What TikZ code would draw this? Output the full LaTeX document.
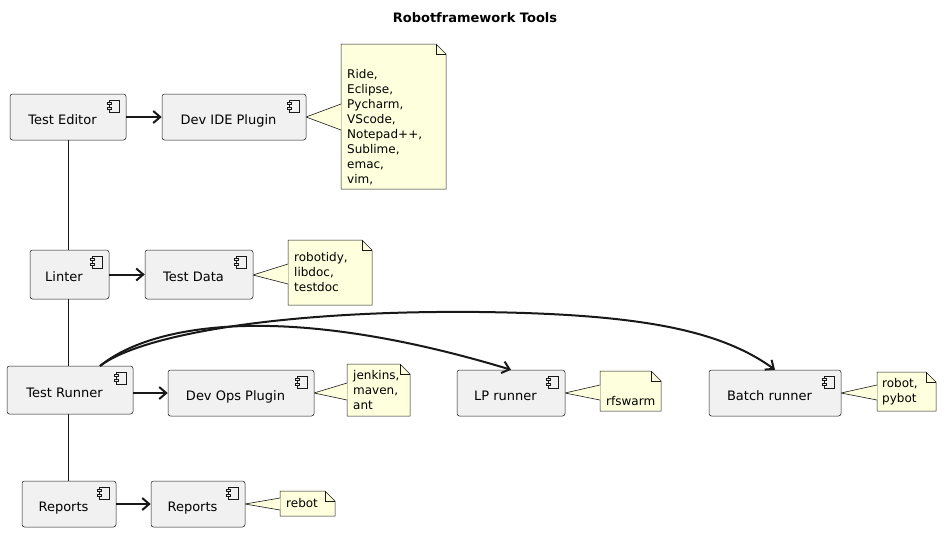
\documentclass[tikz,border=0pt]{standalone}
\usepackage{fontspec}
\setmainfont{DejaVu Sans}
\usetikzlibrary{backgrounds,arrows.meta}
\definecolor{cf}{HTML}{F1F1F1}
\definecolor{nf}{HTML}{FEFFDD}
\definecolor{ln}{HTML}{181818}
\newcommand\ct[1]{\raisebox{-7pt}[0pt][0pt]{#1}\hspace*{11pt}}
\tikzset{
 x=1pt,y=-1pt,
 comp/.style={draw=ln,fill=cf,rounded corners=2.5pt,line width=0.5pt,font=\fontsize{13}{15}\selectfont,
  path picture={\draw[ln,line width=0.5pt,sharp corners] ([xshift=-17pt,yshift=-6pt]path picture bounding box.north east) rectangle ([xshift=-7pt,yshift=-18pt]path picture bounding box.north east);
   \draw[ln,fill=cf,line width=0.5pt,sharp corners] ([xshift=-19pt,yshift=-8pt]path picture bounding box.north east) rectangle ([xshift=-15pt,yshift=-10pt]path picture bounding box.north east);
   \draw[ln,fill=cf,line width=0.5pt,sharp corners] ([xshift=-19pt,yshift=-13pt]path picture bounding box.north east) rectangle ([xshift=-15pt,yshift=-15pt]path picture bounding box.north east);}},
 note/.style={align=left,inner sep=0pt,font=\fontsize{12}{15}\selectfont,anchor=west},
 arr/.style={-{Straight Barb[length=7pt,width=12pt,line width=2pt]},line width=2pt,draw=ln},
 lnk/.style={ln,line width=0.6pt}
}
\newcommand\notebg[5]{% name x1 y1 x2 y2
 \begin{scope}[on background layer]
 \draw[ln,fill=nf,line width=0.5pt] (#2,#3) -- (#4-10,#3) -- (#4,#3+10) -- (#4,#5) -- (#2,#5) -- cycle;
 \draw[ln,line width=0.5pt] (#4-10,#3) -- (#4-10,#3+10) -- (#4,#3+10);
 \end{scope}}
\begin{document}
\begin{tikzpicture}
\useasboundingbox (0,0) rectangle (950,539);
\node[font=\bfseries\fontsize{13}{15}\selectfont] (title) at (475,18) {Robotframework Tools};
\node[comp,minimum width=116pt,minimum height=46pt] (te) at (68,117) {\ct{Test Editor}};
\node[comp,minimum width=144pt,minimum height=46pt] (ide) at (234,117) {\ct{Dev IDE Plugin}};
\node[comp,minimum width=79pt,minimum height=49pt] (li) at (69.5,274.5) {\ct{Linter}};
\node[comp,minimum width=108pt,minimum height=49pt] (td) at (199,274.5) {\ct{Test Data}};
\node[comp,minimum width=126pt,minimum height=48pt] (tr) at (70,390) {\ct{Test Runner}};
\node[comp,minimum width=146pt,minimum height=46pt] (dop) at (241,393) {\ct{Dev Ops Plugin}};
\node[comp,minimum width=108pt,minimum height=46pt] (lp) at (511,393) {\ct{LP runner}};
\node[comp,minimum width=132pt,minimum height=46pt] (br) at (775,393) {\ct{Batch runner}};
\node[comp,minimum width=94pt,minimum height=46pt] (rp1) at (69,504) {\ct{Reports}};
\node[comp,minimum width=94pt,minimum height=46pt] (rp2) at (198,504) {\ct{Reports}};

\node[note] (n1) at (347,127) {Ride,\\Eclipse,\\Pycharm,\\VScode,\\Notepad++,\\Sublime,\\emac,\\vim,};
\notebg{n1}{341}{44}{446}{189}
\node[note] (n2) at (294,272) {robotidy,\\libdoc,\\testdoc};
\notebg{n2}{288}{240}{372}{305}
\node[note] (n3) at (353,390) {jenkins,\\maven,\\ant};
\notebg{n3}{347}{364}{410}{416}
\node[note] (n4) at (606,401) {rfswarm};
\notebg{n4}{600}{371}{661}{411}
\node[note] (n5) at (882,391.5) {robot,\\pybot};
\notebg{n5}{877}{372}{936}{411}
\node[note] (n6) at (286,503.5) {rebot};
\notebg{n6}{280}{491}{335}{516}

\begin{scope}[on background layer]
\fill[nf] (306,117) -- (341.3,104) -- (341.3,130) -- cycle;
\draw[lnk] (341,104) -- (306,117) -- (341,130);
\fill[nf] (253,275) -- (288.3,264) -- (288.3,284) -- cycle;
\draw[lnk] (288,264) -- (253,275) -- (288,284);
\fill[nf] (314,393) -- (347.3,383) -- (347.3,400) -- cycle;
\draw[lnk] (347,383) -- (314,393) -- (347,400);
\fill[nf] (565,393) -- (600.3,385) -- (600.3,400) -- cycle;
\draw[lnk] (600,385) -- (565,393) -- (600,400);
\fill[nf] (841,393) -- (877.3,385) -- (877.3,400) -- cycle;
\draw[lnk] (877,385) -- (841,393) -- (877,400);
\fill[nf] (245,504) -- (280.3,498) -- (280.3,510) -- cycle;
\draw[lnk] (280,498) -- (245,504) -- (280,510);
\end{scope}

\draw[lnk] (te.south) -- (li.north -| te.south);
\draw[lnk] (li.south -| te.south) -- (tr.north -| te.south);
\draw[lnk] (tr.south -| te.south) -- (rp1.north -| te.south);
\draw[arr] (te.east) -- (ide.west);
\draw[arr] (li.east) -- (td.west);
\draw[arr] (tr.east |- dop.west) -- (dop.west);
\draw[arr] (rp1.east) -- (rp2.west);
\draw[arr] (100,366) .. controls (150,325) and (280,300) .. (lp.north);
\draw[arr] (100,366) .. controls (140,335) and (280,310) .. (480,312) .. controls (640,314) and (720,330) .. (br.north);
\end{tikzpicture}
\end{document}
